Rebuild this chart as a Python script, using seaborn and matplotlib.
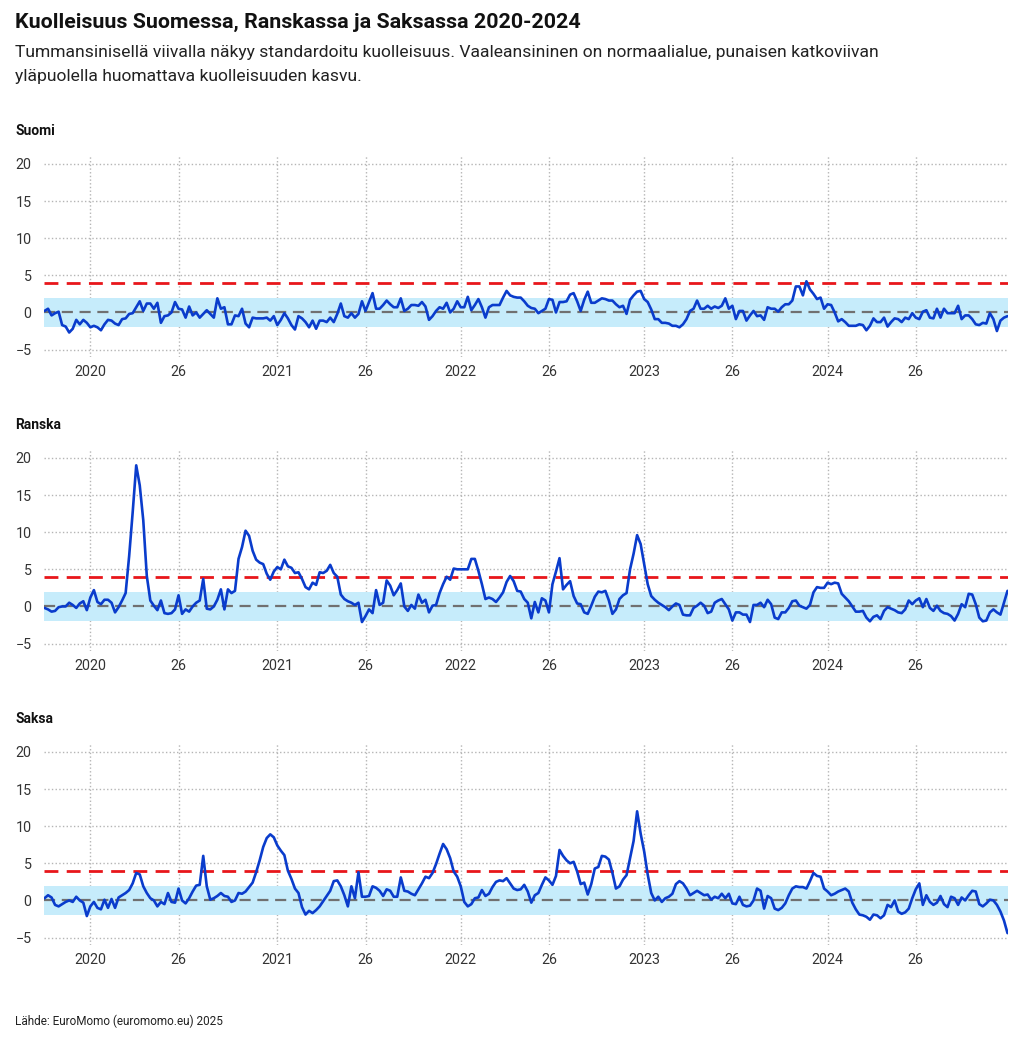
import datetime as dt
import pandas as pd
import seaborn as sns
import matplotlib.pyplot as plt

sns.set_theme(style='white')
plt.rcParams['font.family'] = ['Roboto', 'DejaVu Sans']

# viikkodata alkaa viikosta 40/2019
first_week = '2019-09-30'

suomi = [0.2, 0.5, -0.4, -0.1, 0.1, -1.7, -1.9, -2.7, -2.2, -1.0,
         -1.6, -1.0, -1.4, -2.0, -1.8, -2.0, -2.4, -1.6, -1.0, -1.1,
         -1.5, -1.7, -0.9, -0.8, -0.2, -0.1, 0.7, 1.5, 0.2, 1.2,
         1.2, 0.5, 1.3, -1.4, -0.5, -0.4, 0.0, 1.4, 0.5, 0.4,
         -0.7, 0.8, -0.4, 0.0, -0.7, -0.2, 0.3, -0.2, -0.7, 1.9,
         0.5, 0.7, -1.6, -1.6, -0.4, -0.5, 0.5, -1.5, -2.0, -0.7,
         -0.8, -0.8, -0.8, -0.7, -1.1, -0.5, -1.7, -1.0, -0.1, -0.8,
         -1.7, -2.3, -0.5, -0.8, -1.3, -2.0, -1.1, -2.2, -1.1, -1.1,
         -1.3, -0.7, -1.3, -0.2, 1.2, -0.5, -0.7, -0.1, -0.7, -0.2,
         1.5, 0.2, 1.4, 2.6, 0.5, 0.5, 1.0, 1.6, 1.1, 0.7,
         0.7, 1.9, 0.2, 0.5, 1.0, 1.0, 0.9, 1.4, 0.8, -1.0,
         -0.5, 0.2, 0.7, 0.5, 1.3, 0.0, 0.5, 1.5, 0.7, 0.7,
         2.1, 0.3, 1.0, 1.8, 0.7, -0.7, 0.7, 1.0, 1.0, 1.0,
         2.0, 2.9, 2.3, 2.1, 2.0, 2.0, 1.5, 0.9, 0.6, 0.5,
         -0.1, 0.2, 0.5, 1.8, 1.7, 0.0, 1.4, 1.4, 1.5, 2.4,
         2.6, 1.5, 0.2, 1.7, 2.8, 1.3, 1.3, 1.6, 1.9, 1.8,
         1.6, 1.6, 1.1, 0.7, 0.9, -0.2, 1.7, 2.3, 2.8, 2.9,
         1.8, 1.4, 0.4, -0.9, -0.9, -1.4, -1.4, -1.5, -1.8, -1.8,
         -2.0, -1.6, -0.9, 0.2, 0.5, 1.6, 0.5, 0.5, 0.9, 0.5,
         0.8, 0.6, 0.9, 1.9, 0.5, 0.9, -0.9, 0.2, 0.2, -1.1,
         -0.4, 0.2, -0.5, -0.4, -1.0, 0.7, 0.5, 0.5, 0.1, 0.7,
         1.1, 1.1, 1.6, 3.5, 3.5, 2.3, 4.2, 3.1, 2.5, 1.8,
         2.0, 0.5, 1.1, 1.0, 0.0, -1.2, -0.9, -1.3, -1.8, -1.8,
         -1.8, -1.6, -1.7, -2.4, -1.8, -0.8, -1.3, -1.3, -0.7, -1.9,
         -1.3, -0.8, -0.9, -1.3, -0.7, -0.9, -0.1, -0.7, -0.9, 0.1,
         0.3, -0.7, -0.8, 0.5, -0.7, 0.5, -0.1, -0.1, -0.1, 0.9,
         -0.9, -0.4, -0.4, -0.9, -1.6, -1.7, -1.4, -1.5, -0.1, -0.9,
         -2.5, -1.1, -0.7, -0.5]

ranska = [-0.2, -0.4, -0.7, -0.6, -0.1, 0.0, 0.0, 0.5, 0.2, -0.2,
          0.4, 0.7, -0.5, 1.2, 2.2, 0.6, 0.3, 0.9, 0.9, 0.5,
          -0.8, -0.1, 0.8, 1.8, 6.8, 12.7, 19.0, 16.3, 11.6, 4.1,
          0.8, 0.1, -0.5, 0.8, -0.9, -1.0, -0.9, -0.4, 1.5, -1.0,
          -0.4, -0.7, 0.0, 0.5, 0.8, 3.7, -0.3, -0.4, 0.0, 0.9,
          2.3, -0.4, 2.3, 1.8, 2.1, 6.4, 8.0, 10.2, 9.5, 7.5,
          6.3, 5.9, 5.7, 4.4, 3.6, 4.7, 5.3, 5.0, 6.3, 5.4,
          5.2, 4.5, 4.6, 3.7, 2.6, 2.3, 3.2, 2.9, 4.6, 4.5,
          4.8, 5.6, 4.5, 4.0, 1.6, 1.0, 0.7, 0.5, 0.2, 0.5,
          -2.1, -1.3, -0.4, -0.9, 2.2, 0.2, 0.5, 3.5, 2.8, 1.5,
          2.2, 3.1, 0.0, -0.6, 0.2, -0.3, 1.6, 0.5, 0.9, -0.8,
          0.1, 0.2, 1.8, 3.0, 4.0, 3.6, 5.1, 5.0, 5.0, 5.0,
          5.0, 6.4, 6.4, 4.8, 3.0, 1.0, 1.2, 1.0, 0.6, 1.2,
          1.9, 3.3, 4.1, 3.4, 2.1, 2.0, 1.0, 0.5, -1.6, 0.6,
          -0.8, 1.1, 0.8, -0.8, 3.0, 4.7, 6.5, 2.3, 2.9, 3.4,
          1.4, 0.4, 0.3, -0.8, -1.0, 0.1, 1.3, 2.0, 1.9, 2.1,
          0.8, -1.0, -0.4, 1.0, 1.5, 1.8, 5.0, 7.1, 9.6, 8.4,
          5.7, 3.0, 1.4, 0.9, 0.5, 0.2, -0.1, -0.5, 0.0, 0.4,
          0.2, -1.1, -1.2, -1.2, -0.2, 0.1, 0.5, 0.1, -0.9, -0.7,
          0.5, 0.8, 1.0, 0.3, -0.4, -1.9, -0.8, -0.8, -1.1, -1.1,
          -2.1, 0.2, 0.2, 0.5, -0.1, 0.9, 0.3, -1.5, -1.7, -0.8,
          -0.8, -0.2, 0.7, 0.8, 0.1, -0.1, -0.3, 0.2, 1.9, 2.6,
          2.5, 2.5, 3.2, 3.0, 3.2, 3.1, 1.7, 1.2, 0.7, 0.0,
          -0.7, -0.7, -0.6, -1.5, -2.0, -1.4, -1.2, -1.7, -0.6, -0.1,
          -0.3, -0.5, -0.8, -0.9, -0.4, 0.8, 0.3, 0.8, 1.1, -0.1,
          1.0, -0.2, -0.6, 0.1, -0.6, -0.9, -1.0, -1.3, -1.9, -1.0,
          0.3, -0.1, 1.7, 1.6, 0.3, -1.5, -2.0, -1.9, -0.8, -0.4,
          -0.8, -1.1, 0.5, 2.1]

saksa = [0.3, 0.7, 0.4, -0.6, -0.8, -0.5, -0.2, 0.0, -0.2, 0.5,
         0.0, -0.3, -2.1, -0.8, -0.2, -1.0, -1.2, 0.1, -1.0, 0.2,
         -1.0, 0.4, 0.7, 1.0, 1.4, 2.3, 3.7, 3.5, 1.9, 1.0,
         0.3, 0.0, -0.8, -0.2, -0.5, 1.0, -0.2, -0.3, 1.6, 0.0,
         -0.4, 0.3, 1.2, 2.0, 2.1, 6.0, 1.9, 0.1, 0.3, 0.6,
         1.0, 0.6, 0.5, -0.2, 0.0, 1.0, 0.9, 1.2, 1.8, 2.4,
         3.8, 5.4, 7.2, 8.4, 8.9, 8.5, 7.4, 6.7, 6.1, 4.0,
         2.9, 1.6, 1.0, -0.9, -1.9, -1.4, -1.7, -1.3, -0.8, -0.1,
         0.6, 1.3, 2.6, 2.7, 1.9, 0.7, -0.8, 1.9, 0.3, 3.8,
         0.5, 0.5, 0.6, 1.9, 1.7, 1.3, 0.6, 1.5, 1.3, 0.5,
         0.5, 3.1, 1.3, 1.2, 0.9, 0.7, 1.5, 2.3, 3.2, 3.0,
         3.7, 4.9, 6.3, 7.6, 6.9, 5.7, 3.9, 3.2, 1.9, -0.2,
         -0.8, -0.5, 0.3, 0.4, 1.4, 0.6, 0.9, 1.8, 2.5, 2.7,
         2.6, 3.0, 2.3, 1.6, 1.4, 1.5, 2.1, 1.2, -0.3, 0.7,
         1.0, 2.1, 3.1, 2.7, 2.1, 3.3, 6.8, 6.0, 5.4, 5.0,
         5.2, 3.9, 2.2, 2.4, 0.8, 2.2, 4.3, 4.5, 6.0, 5.9,
         5.5, 3.7, 1.6, 1.9, 2.8, 3.4, 5.7, 8.0, 12.0, 9.0,
         6.6, 3.5, 1.0, 0.0, 0.5, -0.2, 0.3, 0.5, 0.9, 2.2,
         2.6, 2.3, 1.6, 0.7, 1.0, 1.3, 1.0, 0.7, 0.8, 0.1,
         0.5, 0.3, 0.9, 0.3, 0.9, -0.4, -0.5, 0.5, -0.6, -0.8,
         -0.7, 0.0, 1.6, 1.3, -1.1, 0.6, 0.3, -1.1, -1.3, -1.0,
         -0.4, 0.7, 1.6, 1.9, 1.8, 1.8, 1.6, 2.6, 3.7, 3.3,
         3.2, 1.6, 1.2, 0.7, 0.9, 1.2, 1.4, 1.6, 1.2, -0.3,
         -1.2, -1.9, -2.0, -2.2, -2.6, -1.9, -2.0, -2.4, -2.0, -0.6,
         -0.9, 0.0, -1.5, -1.8, -1.6, -1.1, 0.3, 1.5, 2.3, -0.6,
         0.7, -0.2, -0.6, -0.3, 0.6, -0.5, -0.9, 0.5, 0.3, -0.6,
         0.4, 0.0, 0.7, 1.3, 1.2, -0.5, -0.8, -0.4, 0.1, 0.0,
         -0.6, -1.5, -2.7, -4.4]

countries = ['Suomi', 'Ranska', 'Saksa']
tick_years = [2020, 2021, 2022, 2023, 2024]
tick_weeks = [1, 26]
normal_band = (-2, 2)
threshold = 4

weeks = pd.date_range(first_week, periods=len(suomi), freq='W-MON')
df = pd.DataFrame({'viikko': weeks, 'Suomi': suomi, 'Ranska': ranska, 'Saksa': saksa})

tick_pos, tick_lab = [], []
for y in tick_years:
    for w in tick_weeks:
        tick_pos.append(pd.Timestamp(dt.date.fromisocalendar(y, w, 1)))
        tick_lab.append(str(y) if w == 1 else str(w))

W, H = 1024, 1042
fig = plt.figure(figsize=(W / 100, H / 100), dpi=100)

for k, name in enumerate(countries):
    top = 155 + 294 * k
    ax = fig.add_axes([44 / W, 1 - (top + 202) / H, 964 / W, 202 / H])
    ax.axhspan(*normal_band, color='#c6ecfb', lw=0, zorder=1)
    ax.axhline(0, color='#707070', ls=(0, (5, 3)), lw=1.6, zorder=2)
    ax.axhline(threshold, color='#e8161b', ls=(0, (5, 3)), lw=2, zorder=2)
    sns.lineplot(data=df, x='viikko', y=name, ax=ax, color='#0a3ccc', lw=1.9, zorder=3)
    ax.set_ylim(-6, 21.2)
    ax.set_yticks([-5, 0, 5, 10, 15, 20])
    ax.set_xticks(tick_pos, tick_lab)
    ax.set_xlim(weeks[0] - pd.Timedelta(days=1), weeks[-1] + pd.Timedelta(days=1))
    ax.set(xlabel='', ylabel='')
    ax.grid(True, ls=':', color='#b5b5b5', lw=1)
    ax.set_axisbelow(True)
    for s in ax.spines.values():
        s.set_visible(False)
    ax.tick_params(axis='both', length=0, labelsize=10.3, colors='#333333')
    ax.tick_params(axis='y', pad=9)
    ax.tick_params(axis='x', pad=6)
    fig.text(15 / W, 1 - (top - 24) / H, name, fontsize=10, fontweight='bold',
             va='center', color='#111111')

fig.text(15 / W, 1 - 22 / H, 'Kuolleisuus Suomessa, Ranskassa ja Saksassa 2020-2024',
         fontsize=15.4, fontweight='bold', va='center', color='#111111')
fig.text(15 / W, 1 - 53 / H,
         'Tummansinisellä viivalla näkyy standardoitu kuolleisuus. Vaaleansininen on '
         'normaalialue, punaisen katkoviivan',
         fontsize=12.6, va='center', color='#222222')
fig.text(15 / W, 1 - 77 / H, 'yläpuolella huomattava kuolleisuuden kasvu.',
         fontsize=12.6, va='center', color='#222222')
fig.text(15 / W, 1 - 1021 / H, 'Lähde: EuroMomo (euromomo.eu) 2025',
         fontsize=8.5, va='center', color='#222222')

fig.savefig('out.png', dpi=100)
